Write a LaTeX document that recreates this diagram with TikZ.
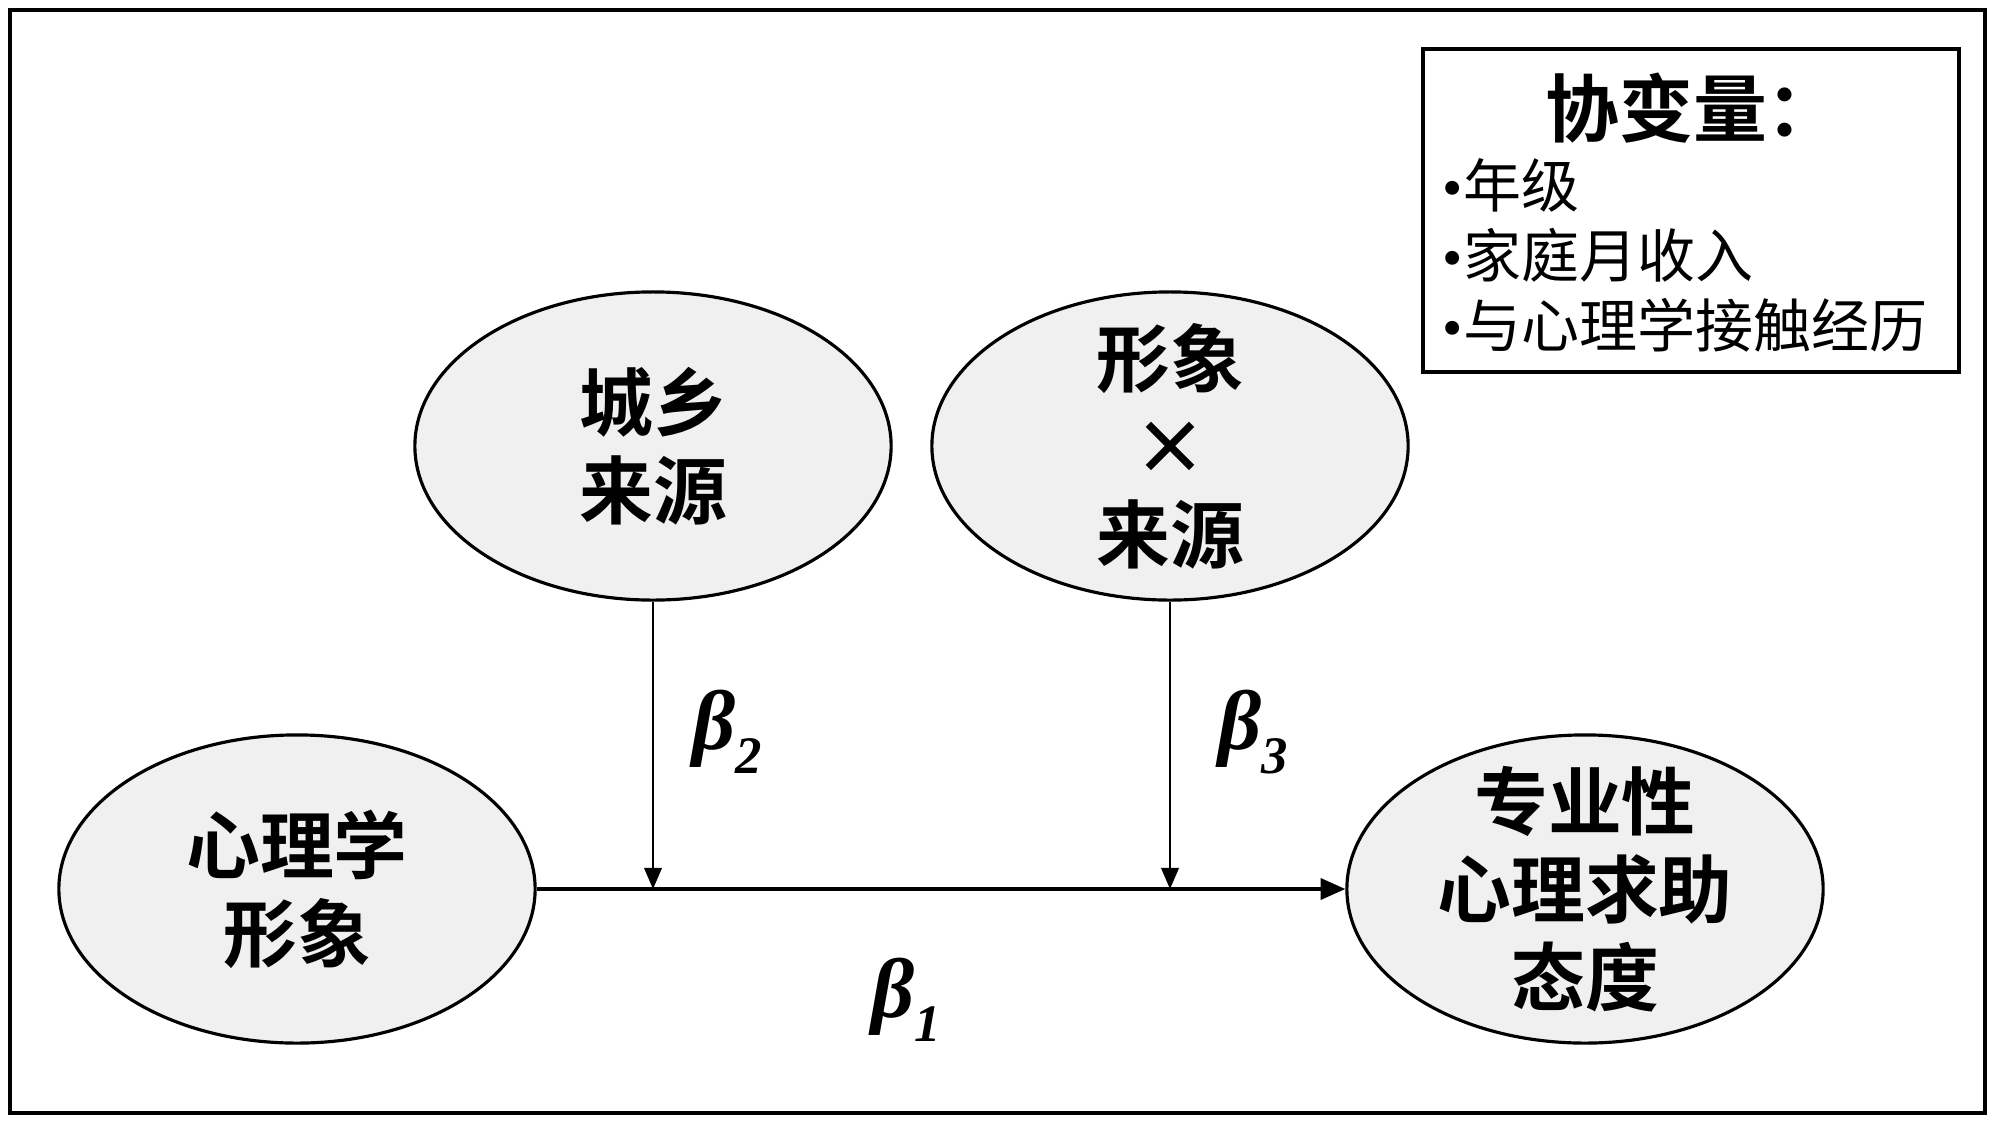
\documentclass[tikz,border=0pt]{standalone}
\usepackage{fontspec}
\setmainfont{Liberation Serif}
\newfontfamily\cjk{Noto Sans CJK SC}[BoldFont={Noto Sans CJK SC Bold}]
\usetikzlibrary{shapes.geometric,arrows.meta}
\tikzset{
  ell/.style={ellipse,draw,line width=0.9pt,fill=gray!12,minimum width=4.76cm,minimum height=3.08cm,inner sep=0pt},
  elltext/.style={inner sep=0pt,align=center,font=\cjk\bfseries\fontsize{21pt}{25pt}\selectfont},
  arr/.style={line width=0.6pt,-{Triangle[length=6pt,width=5pt]}},
  harr/.style={line width=0.9pt,-{Triangle[length=7pt,width=6pt]}},
  lbl/.style={font=\bfseries\itshape\fontsize{24pt}{24pt}\selectfont,inner sep=0pt},
  legtitle/.style={font=\cjk\bfseries\fontsize{21pt}{25pt}\selectfont,inner sep=0pt},
  legitem/.style={font=\cjk\fontsize{16.5pt}{20pt}\selectfont,inner sep=0pt,anchor=west}
}
\newcommand{\subnum}[1]{\raisebox{-0.28em}{\fontsize{15pt}{15pt}\selectfont #1}}
\newcommand{\bul}{{\rmfamily\fontsize{16.5pt}{20pt}\selectfont •}}
\begin{document}
\begin{tikzpicture}[x=0.01cm,y=-0.01cm]
\useasboundingbox (0,0) rectangle (2000,1127);
\draw[line width=1.2pt] (10,10) rectangle (1985,1113);
% legend
\draw[line width=0.9pt] (1423,49) rectangle (1959,372);
\node[legtitle] (lt) at (1693,108) {协变量：};
\node[legitem] (l1) at (1442,185) {\bul 年级};
\node[legitem] (l2) at (1442,255) {\bul 家庭月收入};
\node[legitem] (l3) at (1442,325) {\bul 与心理学接触经历};
% ellipses
\node[ell] (src) at (653,446) {};
\node[ell] (inter) at (1170,446) {};
\node[ell] (img) at (297,889) {};
\node[ell] (att) at (1585,889) {};
\node[elltext] (srct) at (src) {城乡\\来源};
\node[elltext] (intert) at (inter) {形象\\×\\来源};
\node[elltext] (imgt) at (img) {心理学\\形象};
\node[elltext] (attt) at (att) {专业性\\心理求助\\态度};
% connectors
\coordinate (j2) at (src.south |- img.east);
\coordinate (j3) at (inter.south |- img.east);
\draw[harr] (img.east) -- (att.west);
\draw[arr] (src.south) -- (j2);
\draw[arr] (inter.south) -- (j3);
% labels
\node[lbl] (b2) at (727,732) {β\subnum{2}};
\node[lbl] (b3) at (1253,732) {β\subnum{3}};
\node[lbl] (b1) at (906,1000) {β\subnum{1}};
\end{tikzpicture}
\end{document}
